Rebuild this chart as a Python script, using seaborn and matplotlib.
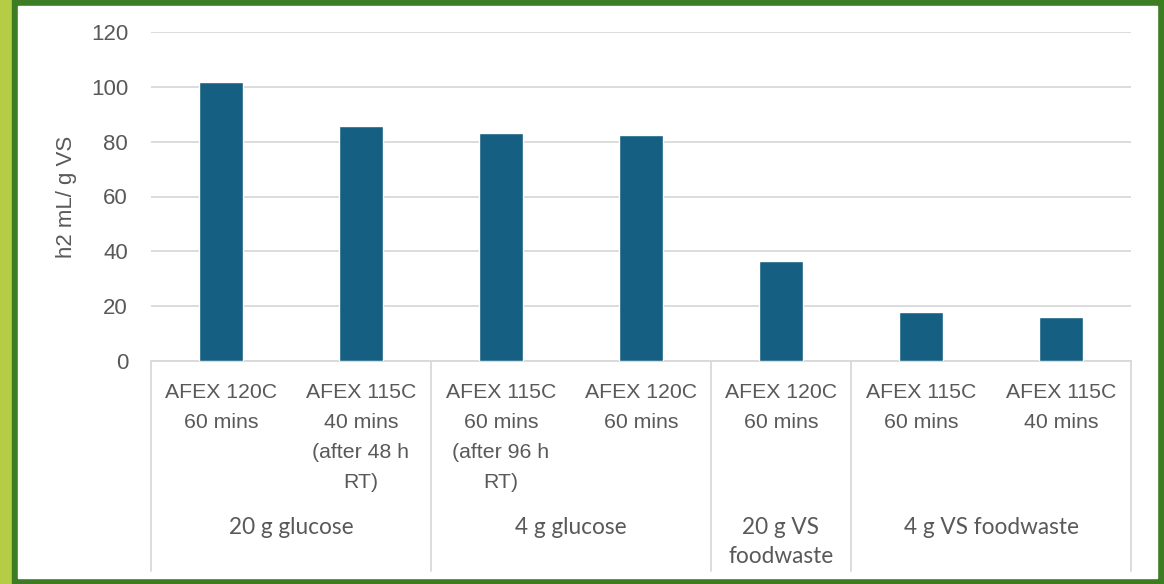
import numpy as np
import pandas as pd
import matplotlib
matplotlib.use("Agg")
import matplotlib.pyplot as plt
import matplotlib.transforms as mtransforms
from matplotlib.patches import Rectangle
import seaborn as sns

# Data
conditions = ["AFEX 120C\n60 mins", "AFEX 115C\n40 mins\n(after 48 h\nRT)",
              "AFEX 115C\n60 mins\n(after 96 h\nRT)", "AFEX 120C\n60 mins",
              "AFEX 120C\n60 mins", "AFEX 115C\n60 mins", "AFEX 115C\n40 mins"]
h2_yield = [101.7, 85.6, 83.3, 82.6, 36.6, 18.0, 16.0]
groups = ["20 g glucose", "4 g glucose", "20 g VS\nfoodwaste", "4 g VS foodwaste"]
group_sizes = [2, 2, 1, 2]

df = pd.DataFrame({"idx": [str(i) for i in range(len(h2_yield))], "h2": h2_yield})

sns.set_theme(style="white")
plt.rcParams['font.family'] = ['Liberation Sans', 'DejaVu Sans']
text_col = "#595959"
grid_col = "#d9d9d9"

W, H = 1164, 584
fig = plt.figure(figsize=(W / 100, H / 100), dpi=100)
fig.patch.set_facecolor("white")

# frame decoration (behind the axes)
fig.patches.append(Rectangle((0, 0), 12 / W, 1, transform=fig.transFigure,
                             color="#b5cc45", zorder=-3))
fig.patches.append(Rectangle((12 / W, 0), 1 - 12 / W, 1, transform=fig.transFigure,
                             color="#3c7d24", zorder=-2))
fig.patches.append(Rectangle((18 / W, 6 / H), (1157 - 18) / W, (578 - 6) / H,
                             transform=fig.transFigure, color="white", zorder=-1))

ax = fig.add_axes([151 / W, (H - 361) / H, (1131 - 151) / W, (361 - 32) / H])
ax.set_facecolor("none")

sns.barplot(data=df, x="idx", y="h2", color="#156082", saturation=1,
            width=0.316, ax=ax, zorder=3)

ax.set_ylim(0, 120)
ax.set_xlim(-0.5, len(h2_yield) - 0.5)
ax.set_yticks(np.arange(0, 121, 20))
ax.yaxis.grid(True, color=grid_col, linewidth=1.3, zorder=0)
for s in ["top", "right", "left"]:
    ax.spines[s].set_visible(False)
ax.spines["bottom"].set_color(grid_col)
ax.spines["bottom"].set_linewidth(1.3)
ax.tick_params(axis="y", length=0, pad=16.5, labelsize=16, labelcolor=text_col)
ax.set_xticks([])
ax.set_xlabel("")
ax.set_ylabel("h2 mL/ g VS", fontsize=16, color=text_col)
ax.yaxis.set_label_coords((77 - 151) / 980, 0.5)

# category labels under each bar
blend = mtransforms.blended_transform_factory(ax.transData, ax.transAxes)
ax_h = 361 - 32
for i, lab in enumerate(conditions):
    ax.text(i, -22 / ax_h, lab, transform=blend, ha="center", va="top",
            fontsize=15.3, color=text_col, linespacing=1.74)

# group labels and separators
edges = np.concatenate([[0], np.cumsum(group_sizes)]) - 0.5
for e in edges:
    ax.plot([e, e], [0, -(571 - 361) / ax_h], transform=blend, color=grid_col,
            linewidth=1.3, clip_on=False)
for g, a, b in zip(groups, edges[:-1], edges[1:]):
    ax.text((a + b) / 2, -(526 - 361 - 9) / ax_h, g, transform=blend, ha="center",
            va="top", fontsize=16.3, color=text_col, linespacing=1.45,
            family=["Lato", "DejaVu Sans"])

fig.savefig("out.png", dpi=100)
